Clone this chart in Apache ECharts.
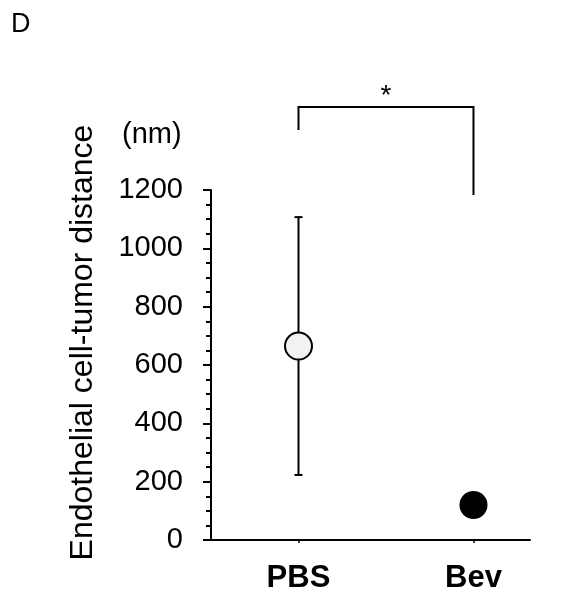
<!DOCTYPE html>
<html>
<head>
<meta charset="utf-8">
<script src="https://cdn.jsdelivr.net/npm/echarts@6/dist/echarts.min.js"></script>
<style>
html,body{margin:0;padding:0;background:#fff;}
#main{width:571px;height:598px;}
</style>
</head>
<body>
<div id="main"></div>
<script>
// ---- data ----
const categories = ['PBS', 'Bev'];
const categoryPos = [1, 2];
const means = [665, 120];
const errLow = [223, null];
const errHigh = [1107, null];
const yTitle = 'Endothelial cell-tumor distance';
const yUnit = '(nm)';
const panelLabel = 'D';
const sigLabel = '*';
// significance bracket levels (in axis units)
const bracketLeftEnd = 1406;
const bracketTopLevel = 1485;
const bracketRightEnd = 1183;
const starLevel = 1522;

const FONT = '"Liberation Sans", Arial, sans-serif';
const chart = echarts.init(document.getElementById('main'), null, {renderer: 'canvas'});

const option = {
  backgroundColor: '#ffffff',
  animation: false,
  grid: {left: 211, top: 190, bottom: 58, right: 41, containLabel: false},
  xAxis: {
    type: 'value',
    min: 0.5,
    max: 2.323,
    splitLine: {show: false},
    axisLine: {show: true, onZero: false, lineStyle: {color: '#000', width: 2}},
    axisTick: {show: true, customValues: categoryPos, length: 3, lineStyle: {color: '#000', width: 1.5}},
    axisLabel: {
      show: true,
      customValues: categoryPos,
      formatter: v => categories[categoryPos.indexOf(Math.round(v))] || '',
      color: '#000',
      fontFamily: FONT,
      fontWeight: 'bold',
      fontSize: 31,
      margin: 23
    }
  },
  yAxis: {
    type: 'value',
    min: 0,
    max: 1200,
    interval: 200,
    name: yTitle,
    nameLocation: 'middle',
    nameRotate: 90,
    nameGap: 112,
    nameTextStyle: {color: '#000', fontFamily: FONT, fontSize: 32, padding: [0, 0, 0, 45]},
    splitLine: {show: false},
    axisLine: {show: true, lineStyle: {color: '#000', width: 2}},
    axisTick: {show: true, length: 8, lineStyle: {color: '#000', width: 2}},
    minorTick: {show: true, splitNumber: 4, length: 5, lineStyle: {color: '#000', width: 2}},
    axisLabel: {color: '#000', fontFamily: FONT, fontSize: 29, margin: 28, formatter: v => String(v)}
  },
  graphic: [
    {type: 'text', left: 11, top: 11, style: {text: panelLabel, fontSize: 27, fontFamily: FONT, fill: '#000'}},
    {type: 'text', left: 122, top: 120, style: {text: yUnit, fontSize: 29, fontFamily: FONT, fill: '#000'}}
  ],
  series: [
    {
      type: 'custom',
      name: 'error',
      z: 1,
      data: categoryPos.map((x, i) => [x, errLow[i], errHigh[i]]).filter(d => d[1] != null),
      renderItem: (params, api) => {
        const x = api.value(0);
        const lo = api.coord([x, api.value(1)]);
        const hi = api.coord([x, api.value(2)]);
        const cw = 4;
        const st = {stroke: '#000', lineWidth: 2};
        return {type: 'group', children: [
          {type: 'line', shape: {x1: lo[0], y1: lo[1], x2: hi[0], y2: hi[1]}, style: st},
          {type: 'line', shape: {x1: lo[0] - cw, y1: lo[1], x2: lo[0] + cw, y2: lo[1]}, style: st},
          {type: 'line', shape: {x1: hi[0] - cw, y1: hi[1], x2: hi[0] + cw, y2: hi[1]}, style: st}
        ]};
      }
    },
    {
      type: 'scatter',
      name: 'PBS',
      z: 3,
      symbol: 'circle',
      symbolSize: 27,
      itemStyle: {color: '#f2f2f2', borderColor: '#000', borderWidth: 2, opacity: 1},
      data: [[categoryPos[0], means[0]]]
    },
    {
      type: 'scatter',
      name: 'Bev',
      z: 3,
      symbol: 'circle',
      symbolSize: 28,
      itemStyle: {color: '#000', borderColor: '#000', borderWidth: 0, opacity: 1},
      data: [[categoryPos[1], means[1]]]
    },
    {
      type: 'custom',
      name: 'bracket',
      clip: false,
      z: 2,
      data: [[categoryPos[0], categoryPos[1], bracketLeftEnd, bracketTopLevel, bracketRightEnd, starLevel]],
      renderItem: (params, api) => {
        const x1 = api.value(0), x2 = api.value(1);
        const a = api.coord([x1, api.value(2)]);
        const b = api.coord([x1, api.value(3)]);
        const c = api.coord([x2, api.value(3)]);
        const d = api.coord([x2, api.value(4)]);
        const s = api.coord([(x1 + x2) / 2, api.value(5)]);
        return {type: 'group', children: [
          {type: 'polyline', shape: {points: [a, b, c, d]}, style: {stroke: '#000', lineWidth: 2, fill: null}},
          {type: 'text', x: s[0], y: s[1], style: {text: sigLabel, fontSize: 28, fontFamily: FONT, fill: '#000', align: 'center', verticalAlign: 'middle'}}
        ]};
      }
    }
  ]
};
chart.setOption(option);
</script>
</body>
</html>
